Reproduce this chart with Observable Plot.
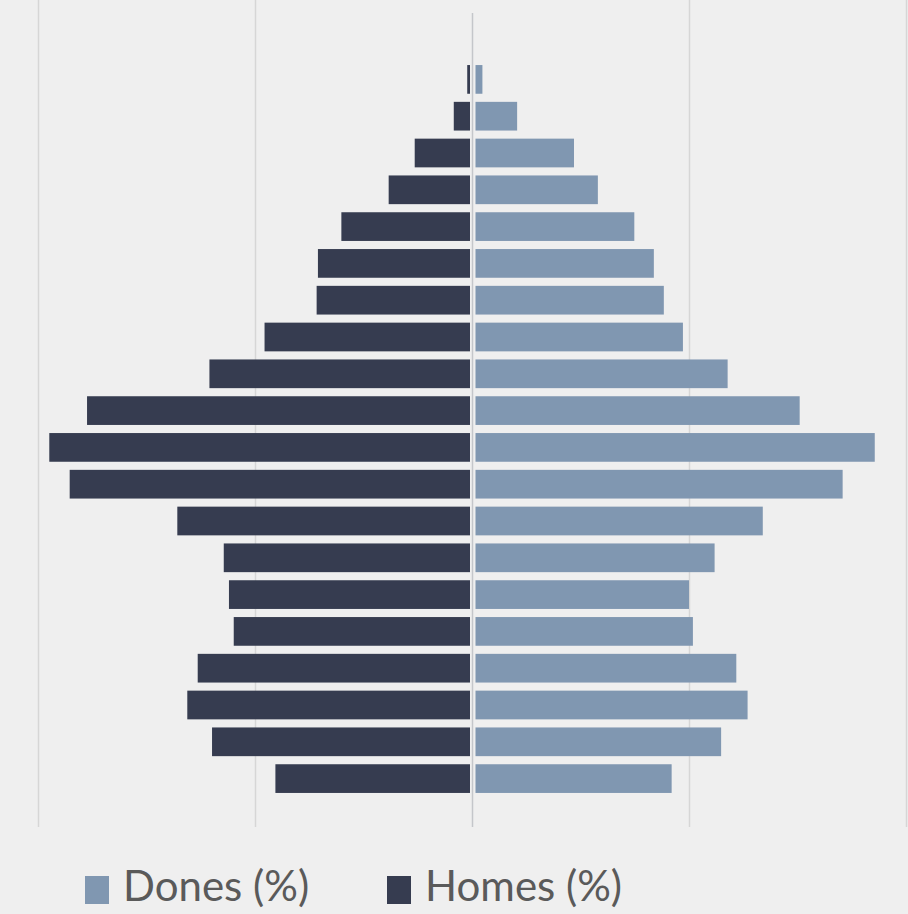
<!DOCTYPE html>
<html>
<head>
<meta charset="utf-8">
<script src="https://cdn.jsdelivr.net/npm/d3@7"></script>
<script src="https://cdn.jsdelivr.net/npm/@observablehq/plot@0.6"></script>
<style>
  html, body { margin: 0; padding: 0; background: #efefef; }
  body { width: 908px; height: 914px; position: relative; font-family: Lato, sans-serif; }
  #chart { position: absolute; left: 0; top: 0; }
  #legend { position: absolute; left: 85px; top: 860px; display: flex; align-items: center; color: #5a5a5a; font-size: 42px; line-height: 1.2; }
  .item { display: flex; align-items: center; }
  .sw { width: 24px; height: 28px; margin-right: 14px; margin-top: 10px; }
</style>
</head>
<body>
<div id="chart"></div>
<div id="legend"></div>
<script>
// Age groups, top of the pyramid first
const ageGroups = ["95+","90-94","85-89","80-84","75-79","70-74","65-69","60-64","55-59","50-54",
                   "45-49","40-44","35-39","30-34","25-29","20-24","15-19","10-14","5-9","0-4"];
// Percent of each sex in each age group
const homes = [0.11, 0.42, 1.32, 1.92, 3.01, 3.55, 3.58, 4.78, 6.05, 8.87,
               9.74, 9.27, 6.79, 5.72, 5.60, 5.49, 6.32, 6.56, 5.99, 4.53];
const dones = [0.24, 1.04, 2.35, 2.90, 3.74, 4.19, 4.42, 4.86, 5.89, 7.55,
               9.28, 8.54, 6.70, 5.59, 5.00, 5.09, 6.09, 6.35, 5.74, 4.60];
const seriesNames = ["Dones (%)", "Homes (%)"];
const gridTicks = [-10, -5, 5, 10];

const colorDones = "#8097b1";
const colorHomes = "#363c50";

const rows = ageGroups.map((g, i) => ({age: g, homes: homes[i], dones: dones[i]}));

const chart = Plot.plot({
  width: 908,
  height: 850,
  marginLeft: 38,
  marginRight: 2,
  marginTop: 61,
  marginBottom: 53,
  style: {background: "#efefef"},
  x: {domain: [-10, 10], axis: null},
  y: {domain: ageGroups, axis: null, paddingInner: 0.22, paddingOuter: 0.11, round: false},
  marks: [
    Plot.ruleX(gridTicks, {stroke: "#d6d6d6", strokeWidth: 1.5, insetTop: -61, insetBottom: -30}),
    Plot.ruleX([0], {stroke: "#c4c6ca", strokeWidth: 1.5, insetTop: -48, insetBottom: -30}),
    Plot.barX(rows, {x1: d => -d.homes, x2: 0, y: "age", fill: colorHomes, insetRight: 2}),
    Plot.barX(rows, {x1: 0, x2: "dones", y: "age", fill: colorDones, insetLeft: 3.5})
  ]
});
document.getElementById("chart").append(chart);

const legend = document.getElementById("legend");
[[seriesNames[0], colorDones, 0], [seriesNames[1], colorHomes, 78]].forEach(([name, col, gap]) => {
  const it = document.createElement("div");
  it.className = "item";
  it.style.marginLeft = gap + "px";
  const sw = document.createElement("span");
  sw.className = "sw";
  sw.style.background = col;
  const tx = document.createElement("span");
  tx.textContent = name;
  it.append(sw, tx);
  legend.append(it);
});
</script>
</body>
</html>
